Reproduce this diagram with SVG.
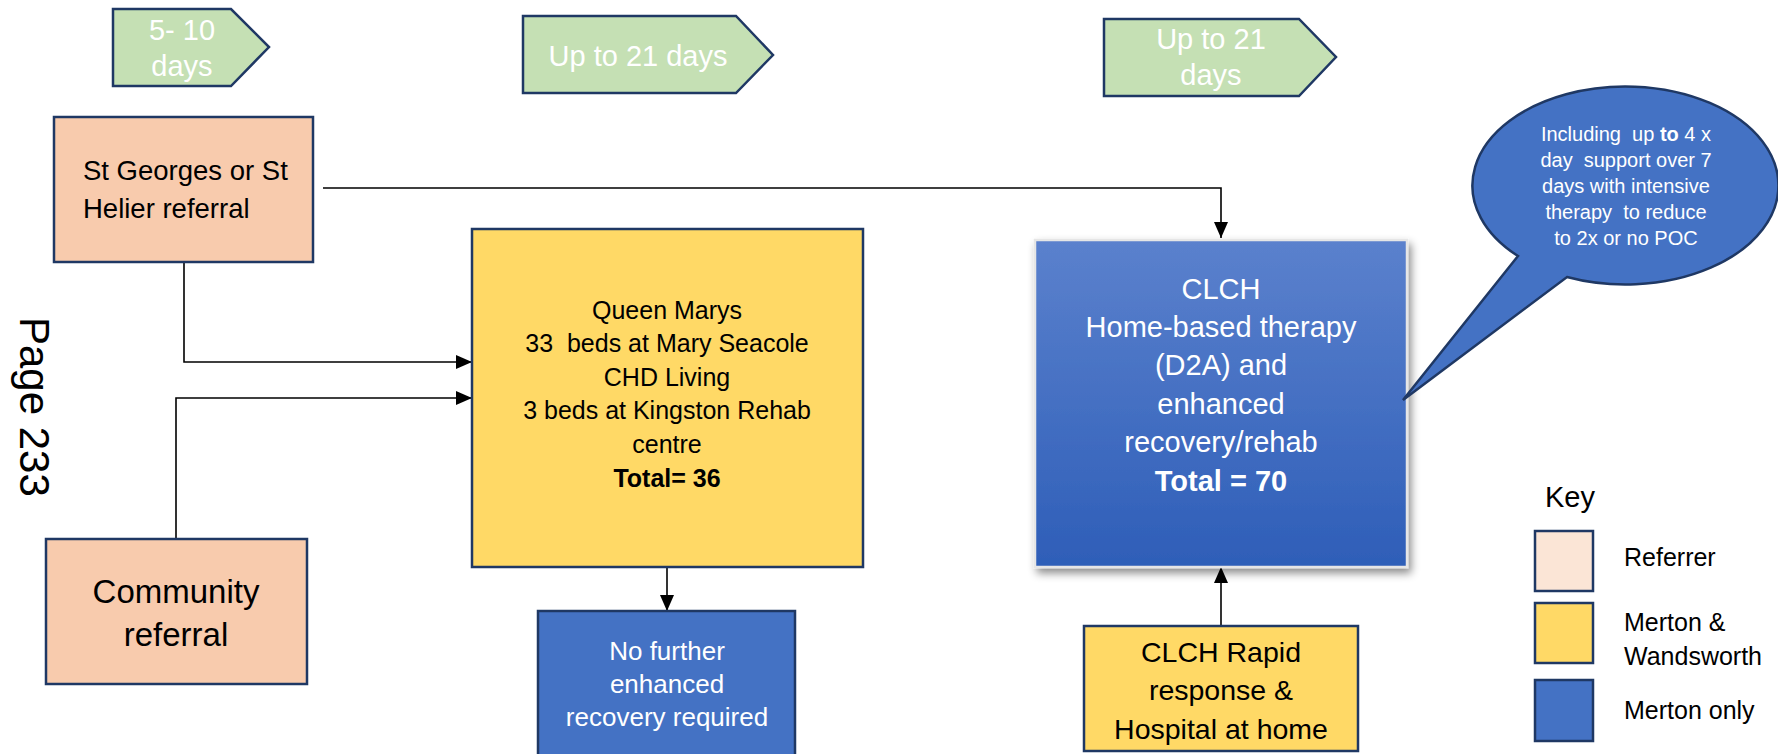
<svg xmlns="http://www.w3.org/2000/svg" width="1778" height="754" viewBox="0 0 1778 754">
<style>
text{font-family:"Liberation Sans",Arial,sans-serif;}
.box{stroke:#1F3864;stroke-width:2.5;}
.peach{fill:#F8CBAD;}
.yellow{fill:#FFD966;}
.blue{fill:#4472C4;}
.chev{fill:#C5E0B4;stroke:#1F3864;stroke-width:2.5;}
.wt{fill:#FFFFFF;}
.bk{fill:#000000;}
.conn{fill:none;stroke:#000;stroke-width:1.6;}
</style>
<defs>
<marker id="arr" markerUnits="userSpaceOnUse" markerWidth="16" markerHeight="14" viewBox="0 0 16 14" refX="16" refY="7" orient="auto">
<path d="M0,0 L16,7 L0,14 Z" fill="#000"/>
</marker>
<linearGradient id="clchGrad" x1="0" y1="0" x2="0" y2="1">
<stop offset="0" stop-color="#5B81CD"/>
<stop offset="1" stop-color="#2E5EB8"/>
</linearGradient>
<filter id="shadow" x="-10%" y="-10%" width="125%" height="125%">
<feDropShadow dx="3" dy="5" stdDeviation="4" flood-color="#000" flood-opacity="0.45"/>
</filter>
</defs>

<g id="page-label">
<text transform="translate(20,317) rotate(90)" font-size="42" class="bk">Page 233</text>
</g>

<g id="chevron-1">
<path class="chev" d="M113,9 H231 L269,47 L231,86 H113 Z"/>
<text class="wt" font-size="29" text-anchor="middle" x="182" y="40">5- 10</text>
<text class="wt" font-size="29" text-anchor="middle" x="182" y="76">days</text>
</g>
<g id="chevron-2">
<path class="chev" d="M523,16 H736 L773,55 L736,93 H523 Z"/>
<text class="wt" font-size="29" text-anchor="middle" x="638" y="66">Up to 21 days</text>
</g>
<g id="chevron-3">
<path class="chev" d="M1104,19 H1299 L1336,57 L1299,96 H1104 Z"/>
<text class="wt" font-size="29" text-anchor="middle" x="1211" y="49">Up to 21</text>
<text class="wt" font-size="29" text-anchor="middle" x="1211" y="85">days</text>
</g>

<g id="connectors">
<path class="conn" d="M323,188 H1221 V238" marker-end="url(#arr)"/>
<path class="conn" d="M184,262 V362 H472" marker-end="url(#arr)"/>
<path class="conn" d="M176,539 V398 H472" marker-end="url(#arr)"/>
<path class="conn" d="M667,567 V611" marker-end="url(#arr)"/>
<path class="conn" d="M1221,626 V567" marker-end="url(#arr)"/>
</g>

<g id="st-georges">
<rect class="box peach" x="54" y="117" width="259" height="145"/>
<text class="bk" font-size="27.5" x="83" y="180">St Georges or St</text>
<text class="bk" font-size="27.5" x="83" y="218">Helier referral</text>
</g>

<g id="community">
<rect class="box peach" x="46" y="539" width="261" height="145"/>
<text class="bk" font-size="33" text-anchor="middle" x="176" y="603">Community</text>
<text class="bk" font-size="33" text-anchor="middle" x="176" y="646">referral</text>
</g>

<g id="queen-marys">
<rect class="box yellow" x="472" y="229" width="391" height="338"/>
<g class="bk" font-size="25" text-anchor="middle">
<text x="667" y="319">Queen Marys</text>
<text x="667" y="352" xml:space="preserve">33  beds at Mary Seacole</text>
<text x="667" y="386">CHD Living</text>
<text x="667" y="419">3 beds at Kingston Rehab</text>
<text x="667" y="453">centre</text>
<text x="667" y="487" font-weight="bold">Total= 36</text>
</g>
</g>

<g id="no-further">
<rect class="box blue" x="538" y="611" width="257" height="150"/>
<g class="wt" font-size="26" text-anchor="middle">
<text x="667" y="660">No further</text>
<text x="667" y="693">enhanced</text>
<text x="667" y="726">recovery required</text>
</g>
</g>

<g id="clch-home">
<rect x="1035" y="240" width="372" height="327" fill="url(#clchGrad)" stroke="#E6E6E6" stroke-width="2.5" filter="url(#shadow)"/>
<g class="wt" font-size="29" text-anchor="middle">
<text x="1221" y="299">CLCH</text>
<text x="1221" y="337">Home-based therapy</text>
<text x="1221" y="375">(D2A) and</text>
<text x="1221" y="414">enhanced</text>
<text x="1221" y="452">recovery/rehab</text>
<text x="1221" y="491" font-weight="bold">Total = 70</text>
</g>
</g>

<g id="clch-rapid">
<rect class="box yellow" x="1084" y="626" width="274" height="125"/>
<g class="bk" font-size="28.5" text-anchor="middle">
<text x="1221" y="662">CLCH Rapid</text>
<text x="1221" y="700">response &amp;</text>
<text x="1221" y="739">Hospital at home</text>
</g>
</g>

<g id="callout">
<path d="M1518,256 L1403,400 L1567,277 A153,99 0 1 0 1518,256 Z" fill="#4472C4" stroke="#1F3864" stroke-width="2.5"/>
<g class="wt" font-size="20" text-anchor="middle">
<text x="1626" y="141" xml:space="preserve">Including  up <tspan font-weight="bold">to</tspan> 4 x</text>
<text x="1626" y="167" xml:space="preserve">day  support over 7</text>
<text x="1626" y="193">days with intensive</text>
<text x="1626" y="219" xml:space="preserve">therapy  to reduce</text>
<text x="1626" y="245">to 2x or no POC</text>
</g>
</g>

<g id="key">
<text class="bk" font-size="29" x="1545" y="507">Key</text>
<rect class="box" fill="#FBE5D6" x="1535" y="531" width="58" height="60"/>
<rect class="box yellow" x="1535" y="603" width="58" height="60"/>
<rect class="box blue" x="1535" y="680" width="58" height="61"/>
<g class="bk" font-size="25">
<text x="1624" y="566">Referrer</text>
<text x="1624" y="631">Merton &amp;</text>
<text x="1624" y="665">Wandsworth</text>
<text x="1624" y="719">Merton only</text>
</g>
</g>
</svg>
